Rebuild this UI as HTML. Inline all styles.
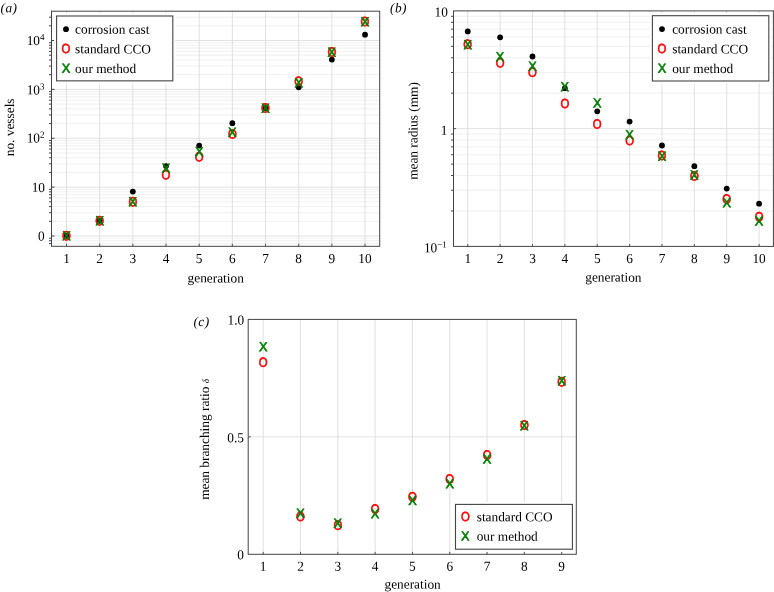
<!DOCTYPE html>
<html lang="en">
<head>
<meta charset="utf-8">
<title>Vessel statistics per generation</title>
<style>
  html, body { margin: 0; padding: 0; background: #ffffff; }
  body { width: 774px; height: 592px; overflow: hidden; }
  svg { display: block; will-change: transform; opacity: 0.9999; }
  text { text-rendering: geometricPrecision; }
  text.s { font-family: "Liberation Serif", "Times New Roman", Times, serif; font-size: 13.33px; fill: #000; }
  text.m { font-family: "Liberation Sans", Arial, Helvetica, sans-serif; text-anchor: middle; stroke-width: 0.6px; stroke-linejoin: round; }
  text.o { font-size: 13.15px; fill: #ff0000; stroke: #ff0000; }
  text.x { font-size: 13.2px; fill: #008000; stroke: #008000; }
</style>
</head>
<body>
<svg width="774" height="592" viewBox="0 0 774 592">
<rect width="774" height="592" fill="#ffffff"/>
<g id="panel-a">
<line x1="51.50" y1="243.57" x2="379.70" y2="243.57" stroke="#ececec" stroke-width="0.8"/>
<line x1="51.50" y1="240.74" x2="379.70" y2="240.74" stroke="#ececec" stroke-width="0.8"/>
<line x1="51.50" y1="238.24" x2="379.70" y2="238.24" stroke="#ececec" stroke-width="0.8"/>
<line x1="51.50" y1="221.29" x2="379.70" y2="221.29" stroke="#ececec" stroke-width="0.8"/>
<line x1="51.50" y1="212.68" x2="379.70" y2="212.68" stroke="#ececec" stroke-width="0.8"/>
<line x1="51.50" y1="206.58" x2="379.70" y2="206.58" stroke="#ececec" stroke-width="0.8"/>
<line x1="51.50" y1="201.84" x2="379.70" y2="201.84" stroke="#ececec" stroke-width="0.8"/>
<line x1="51.50" y1="197.97" x2="379.70" y2="197.97" stroke="#ececec" stroke-width="0.8"/>
<line x1="51.50" y1="194.70" x2="379.70" y2="194.70" stroke="#ececec" stroke-width="0.8"/>
<line x1="51.50" y1="191.87" x2="379.70" y2="191.87" stroke="#ececec" stroke-width="0.8"/>
<line x1="51.50" y1="189.37" x2="379.70" y2="189.37" stroke="#ececec" stroke-width="0.8"/>
<line x1="51.50" y1="172.42" x2="379.70" y2="172.42" stroke="#ececec" stroke-width="0.8"/>
<line x1="51.50" y1="163.81" x2="379.70" y2="163.81" stroke="#ececec" stroke-width="0.8"/>
<line x1="51.50" y1="157.71" x2="379.70" y2="157.71" stroke="#ececec" stroke-width="0.8"/>
<line x1="51.50" y1="152.97" x2="379.70" y2="152.97" stroke="#ececec" stroke-width="0.8"/>
<line x1="51.50" y1="149.10" x2="379.70" y2="149.10" stroke="#ececec" stroke-width="0.8"/>
<line x1="51.50" y1="145.83" x2="379.70" y2="145.83" stroke="#ececec" stroke-width="0.8"/>
<line x1="51.50" y1="143.00" x2="379.70" y2="143.00" stroke="#ececec" stroke-width="0.8"/>
<line x1="51.50" y1="140.50" x2="379.70" y2="140.50" stroke="#ececec" stroke-width="0.8"/>
<line x1="51.50" y1="123.55" x2="379.70" y2="123.55" stroke="#ececec" stroke-width="0.8"/>
<line x1="51.50" y1="114.94" x2="379.70" y2="114.94" stroke="#ececec" stroke-width="0.8"/>
<line x1="51.50" y1="108.84" x2="379.70" y2="108.84" stroke="#ececec" stroke-width="0.8"/>
<line x1="51.50" y1="104.10" x2="379.70" y2="104.10" stroke="#ececec" stroke-width="0.8"/>
<line x1="51.50" y1="100.23" x2="379.70" y2="100.23" stroke="#ececec" stroke-width="0.8"/>
<line x1="51.50" y1="96.96" x2="379.70" y2="96.96" stroke="#ececec" stroke-width="0.8"/>
<line x1="51.50" y1="94.13" x2="379.70" y2="94.13" stroke="#ececec" stroke-width="0.8"/>
<line x1="51.50" y1="91.63" x2="379.70" y2="91.63" stroke="#ececec" stroke-width="0.8"/>
<line x1="51.50" y1="74.68" x2="379.70" y2="74.68" stroke="#ececec" stroke-width="0.8"/>
<line x1="51.50" y1="66.07" x2="379.70" y2="66.07" stroke="#ececec" stroke-width="0.8"/>
<line x1="51.50" y1="59.97" x2="379.70" y2="59.97" stroke="#ececec" stroke-width="0.8"/>
<line x1="51.50" y1="55.23" x2="379.70" y2="55.23" stroke="#ececec" stroke-width="0.8"/>
<line x1="51.50" y1="51.36" x2="379.70" y2="51.36" stroke="#ececec" stroke-width="0.8"/>
<line x1="51.50" y1="48.09" x2="379.70" y2="48.09" stroke="#ececec" stroke-width="0.8"/>
<line x1="51.50" y1="45.26" x2="379.70" y2="45.26" stroke="#ececec" stroke-width="0.8"/>
<line x1="51.50" y1="42.76" x2="379.70" y2="42.76" stroke="#ececec" stroke-width="0.8"/>
<line x1="51.50" y1="25.81" x2="379.70" y2="25.81" stroke="#ececec" stroke-width="0.8"/>
<line x1="51.50" y1="17.20" x2="379.70" y2="17.20" stroke="#ececec" stroke-width="0.8"/>
<line x1="51.50" y1="236.00" x2="379.70" y2="236.00" stroke="#d9d9d9" stroke-width="0.8"/>
<line x1="51.50" y1="187.13" x2="379.70" y2="187.13" stroke="#d9d9d9" stroke-width="0.8"/>
<line x1="51.50" y1="138.26" x2="379.70" y2="138.26" stroke="#d9d9d9" stroke-width="0.8"/>
<line x1="51.50" y1="89.39" x2="379.70" y2="89.39" stroke="#d9d9d9" stroke-width="0.8"/>
<line x1="51.50" y1="40.52" x2="379.70" y2="40.52" stroke="#d9d9d9" stroke-width="0.8"/>
<line x1="66.50" y1="11.20" x2="66.50" y2="246.30" stroke="#d9d9d9" stroke-width="0.8"/>
<line x1="99.67" y1="11.20" x2="99.67" y2="246.30" stroke="#d9d9d9" stroke-width="0.8"/>
<line x1="132.84" y1="11.20" x2="132.84" y2="246.30" stroke="#d9d9d9" stroke-width="0.8"/>
<line x1="166.01" y1="11.20" x2="166.01" y2="246.30" stroke="#d9d9d9" stroke-width="0.8"/>
<line x1="199.18" y1="11.20" x2="199.18" y2="246.30" stroke="#d9d9d9" stroke-width="0.8"/>
<line x1="232.35" y1="11.20" x2="232.35" y2="246.30" stroke="#d9d9d9" stroke-width="0.8"/>
<line x1="265.52" y1="11.20" x2="265.52" y2="246.30" stroke="#d9d9d9" stroke-width="0.8"/>
<line x1="298.69" y1="11.20" x2="298.69" y2="246.30" stroke="#d9d9d9" stroke-width="0.8"/>
<line x1="331.86" y1="11.20" x2="331.86" y2="246.30" stroke="#d9d9d9" stroke-width="0.8"/>
<line x1="365.03" y1="11.20" x2="365.03" y2="246.30" stroke="#d9d9d9" stroke-width="0.8"/>
<line x1="49.00" y1="243.57" x2="51.50" y2="243.57" stroke="#444444" stroke-width="1"/>
<line x1="49.00" y1="240.74" x2="51.50" y2="240.74" stroke="#444444" stroke-width="1"/>
<line x1="49.00" y1="238.24" x2="51.50" y2="238.24" stroke="#444444" stroke-width="1"/>
<line x1="49.00" y1="221.29" x2="51.50" y2="221.29" stroke="#444444" stroke-width="1"/>
<line x1="49.00" y1="212.68" x2="51.50" y2="212.68" stroke="#444444" stroke-width="1"/>
<line x1="49.00" y1="206.58" x2="51.50" y2="206.58" stroke="#444444" stroke-width="1"/>
<line x1="49.00" y1="201.84" x2="51.50" y2="201.84" stroke="#444444" stroke-width="1"/>
<line x1="49.00" y1="197.97" x2="51.50" y2="197.97" stroke="#444444" stroke-width="1"/>
<line x1="49.00" y1="194.70" x2="51.50" y2="194.70" stroke="#444444" stroke-width="1"/>
<line x1="49.00" y1="191.87" x2="51.50" y2="191.87" stroke="#444444" stroke-width="1"/>
<line x1="49.00" y1="189.37" x2="51.50" y2="189.37" stroke="#444444" stroke-width="1"/>
<line x1="49.00" y1="172.42" x2="51.50" y2="172.42" stroke="#444444" stroke-width="1"/>
<line x1="49.00" y1="163.81" x2="51.50" y2="163.81" stroke="#444444" stroke-width="1"/>
<line x1="49.00" y1="157.71" x2="51.50" y2="157.71" stroke="#444444" stroke-width="1"/>
<line x1="49.00" y1="152.97" x2="51.50" y2="152.97" stroke="#444444" stroke-width="1"/>
<line x1="49.00" y1="149.10" x2="51.50" y2="149.10" stroke="#444444" stroke-width="1"/>
<line x1="49.00" y1="145.83" x2="51.50" y2="145.83" stroke="#444444" stroke-width="1"/>
<line x1="49.00" y1="143.00" x2="51.50" y2="143.00" stroke="#444444" stroke-width="1"/>
<line x1="49.00" y1="140.50" x2="51.50" y2="140.50" stroke="#444444" stroke-width="1"/>
<line x1="49.00" y1="123.55" x2="51.50" y2="123.55" stroke="#444444" stroke-width="1"/>
<line x1="49.00" y1="114.94" x2="51.50" y2="114.94" stroke="#444444" stroke-width="1"/>
<line x1="49.00" y1="108.84" x2="51.50" y2="108.84" stroke="#444444" stroke-width="1"/>
<line x1="49.00" y1="104.10" x2="51.50" y2="104.10" stroke="#444444" stroke-width="1"/>
<line x1="49.00" y1="100.23" x2="51.50" y2="100.23" stroke="#444444" stroke-width="1"/>
<line x1="49.00" y1="96.96" x2="51.50" y2="96.96" stroke="#444444" stroke-width="1"/>
<line x1="49.00" y1="94.13" x2="51.50" y2="94.13" stroke="#444444" stroke-width="1"/>
<line x1="49.00" y1="91.63" x2="51.50" y2="91.63" stroke="#444444" stroke-width="1"/>
<line x1="49.00" y1="74.68" x2="51.50" y2="74.68" stroke="#444444" stroke-width="1"/>
<line x1="49.00" y1="66.07" x2="51.50" y2="66.07" stroke="#444444" stroke-width="1"/>
<line x1="49.00" y1="59.97" x2="51.50" y2="59.97" stroke="#444444" stroke-width="1"/>
<line x1="49.00" y1="55.23" x2="51.50" y2="55.23" stroke="#444444" stroke-width="1"/>
<line x1="49.00" y1="51.36" x2="51.50" y2="51.36" stroke="#444444" stroke-width="1"/>
<line x1="49.00" y1="48.09" x2="51.50" y2="48.09" stroke="#444444" stroke-width="1"/>
<line x1="49.00" y1="45.26" x2="51.50" y2="45.26" stroke="#444444" stroke-width="1"/>
<line x1="49.00" y1="42.76" x2="51.50" y2="42.76" stroke="#444444" stroke-width="1"/>
<line x1="49.00" y1="25.81" x2="51.50" y2="25.81" stroke="#444444" stroke-width="1"/>
<line x1="49.00" y1="17.20" x2="51.50" y2="17.20" stroke="#444444" stroke-width="1"/>
<line x1="51.50" y1="236.00" x2="54.50" y2="236.00" stroke="#444444" stroke-width="1"/>
<line x1="51.50" y1="187.13" x2="54.50" y2="187.13" stroke="#444444" stroke-width="1"/>
<line x1="51.50" y1="138.26" x2="54.50" y2="138.26" stroke="#444444" stroke-width="1"/>
<line x1="51.50" y1="89.39" x2="54.50" y2="89.39" stroke="#444444" stroke-width="1"/>
<line x1="51.50" y1="40.52" x2="54.50" y2="40.52" stroke="#444444" stroke-width="1"/>
<line x1="66.50" y1="246.30" x2="66.50" y2="243.70" stroke="#444444" stroke-width="0.9"/>
<line x1="99.67" y1="246.30" x2="99.67" y2="243.70" stroke="#444444" stroke-width="0.9"/>
<line x1="132.84" y1="246.30" x2="132.84" y2="243.70" stroke="#444444" stroke-width="0.9"/>
<line x1="166.01" y1="246.30" x2="166.01" y2="243.70" stroke="#444444" stroke-width="0.9"/>
<line x1="199.18" y1="246.30" x2="199.18" y2="243.70" stroke="#444444" stroke-width="0.9"/>
<line x1="232.35" y1="246.30" x2="232.35" y2="243.70" stroke="#444444" stroke-width="0.9"/>
<line x1="265.52" y1="246.30" x2="265.52" y2="243.70" stroke="#444444" stroke-width="0.9"/>
<line x1="298.69" y1="246.30" x2="298.69" y2="243.70" stroke="#444444" stroke-width="0.9"/>
<line x1="331.86" y1="246.30" x2="331.86" y2="243.70" stroke="#444444" stroke-width="0.9"/>
<line x1="365.03" y1="246.30" x2="365.03" y2="243.70" stroke="#444444" stroke-width="0.9"/>
<rect x="51.50" y="11.20" width="328.20" height="235.10" fill="none" stroke="#444444" stroke-width="1"/>
</g>
<g id="labels-a">
<text class="s" transform="translate(0.60,12.30) matrix(1 0.002 0 1 0 0)" font-size="14" font-style="italic" letter-spacing="0.4">(a)</text>
<text class="s" transform="translate(44.50,45.00) matrix(1 0.002 0 1.03 0 0)" text-anchor="end">10<tspan font-size="9" dy="-4.75">4</tspan></text>
<text class="s" transform="translate(44.50,94.40) matrix(1 0.002 0 1.03 0 0)" text-anchor="end">10<tspan font-size="9" dy="-4.75">3</tspan></text>
<text class="s" transform="translate(44.50,142.55) matrix(1 0.002 0 1.03 0 0)" text-anchor="end">10<tspan font-size="9" dy="-4.75">2</tspan></text>
<text class="s" transform="translate(45.00,191.90) matrix(1 0.002 0 1.03 0 0)" text-anchor="end">10</text>
<text class="s" transform="translate(44.60,240.60) matrix(1 0.002 0 1.03 0 0)" text-anchor="end">0</text>
<text class="s" transform="translate(66.50,263.00) matrix(1 0.002 0 1.03 0 0)" text-anchor="middle">1</text>
<text class="s" transform="translate(99.67,263.00) matrix(1 0.002 0 1.03 0 0)" text-anchor="middle">2</text>
<text class="s" transform="translate(132.84,263.00) matrix(1 0.002 0 1.03 0 0)" text-anchor="middle">3</text>
<text class="s" transform="translate(166.01,263.00) matrix(1 0.002 0 1.03 0 0)" text-anchor="middle">4</text>
<text class="s" transform="translate(199.18,263.00) matrix(1 0.002 0 1.03 0 0)" text-anchor="middle">5</text>
<text class="s" transform="translate(232.35,263.00) matrix(1 0.002 0 1.03 0 0)" text-anchor="middle">6</text>
<text class="s" transform="translate(265.52,263.00) matrix(1 0.002 0 1.03 0 0)" text-anchor="middle">7</text>
<text class="s" transform="translate(298.69,263.00) matrix(1 0.002 0 1.03 0 0)" text-anchor="middle">8</text>
<text class="s" transform="translate(331.86,263.00) matrix(1 0.002 0 1.03 0 0)" text-anchor="middle">9</text>
<text class="s" transform="translate(365.03,263.00) matrix(1 0.002 0 1.03 0 0)" text-anchor="middle">10</text>
<text class="s" transform="translate(215.70,282.40) matrix(1 0.002 0 1 0 0)" text-anchor="middle">generation</text>
<text class="s" transform="translate(13.95,127.35) rotate(-90) matrix(1 0.002 0 1 0 0)" text-anchor="middle">no. vessels</text>
</g>
<g id="points-a">
<circle cx="66.50" cy="235.80" r="2.9" fill="#000"/>
<circle cx="99.67" cy="220.80" r="2.9" fill="#000"/>
<circle cx="132.84" cy="191.60" r="2.9" fill="#000"/>
<circle cx="166.01" cy="166.10" r="2.9" fill="#000"/>
<circle cx="199.18" cy="145.60" r="2.9" fill="#000"/>
<circle cx="232.35" cy="123.20" r="2.9" fill="#000"/>
<circle cx="265.52" cy="108.10" r="2.9" fill="#000"/>
<circle cx="298.69" cy="87.30" r="2.9" fill="#000"/>
<circle cx="331.86" cy="59.60" r="2.9" fill="#000"/>
<circle cx="365.03" cy="34.70" r="2.9" fill="#000"/>
<text class="m o" transform="translate(66.50,240.32) matrix(0.865 0.002 0 1 0 0)">O</text>
<text class="m o" transform="translate(99.67,225.32) matrix(0.865 0.002 0 1 0 0)">O</text>
<text class="m o" transform="translate(132.84,206.22) matrix(0.865 0.002 0 1 0 0)">O</text>
<text class="m o" transform="translate(166.01,179.32) matrix(0.865 0.002 0 1 0 0)">O</text>
<text class="m o" transform="translate(199.18,161.32) matrix(0.865 0.002 0 1 0 0)">O</text>
<text class="m o" transform="translate(232.35,138.42) matrix(0.865 0.002 0 1 0 0)">O</text>
<text class="m o" transform="translate(265.52,112.62) matrix(0.865 0.002 0 1 0 0)">O</text>
<text class="m o" transform="translate(298.69,85.72) matrix(0.865 0.002 0 1 0 0)">O</text>
<text class="m o" transform="translate(331.86,56.62) matrix(0.865 0.002 0 1 0 0)">O</text>
<text class="m o" transform="translate(365.03,26.12) matrix(0.865 0.002 0 1 0 0)">O</text>
<text class="m x" transform="translate(66.50,240.34) matrix(0.975 0.002 0 1 0 0)">X</text>
<text class="m x" transform="translate(99.67,225.34) matrix(0.975 0.002 0 1 0 0)">X</text>
<text class="m x" transform="translate(132.84,206.24) matrix(0.975 0.002 0 1 0 0)">X</text>
<text class="m x" transform="translate(166.01,172.64) matrix(0.975 0.002 0 1 0 0)">X</text>
<text class="m x" transform="translate(199.18,156.34) matrix(0.975 0.002 0 1 0 0)">X</text>
<text class="m x" transform="translate(232.35,136.74) matrix(0.975 0.002 0 1 0 0)">X</text>
<text class="m x" transform="translate(265.52,112.64) matrix(0.975 0.002 0 1 0 0)">X</text>
<text class="m x" transform="translate(298.69,87.14) matrix(0.975 0.002 0 1 0 0)">X</text>
<text class="m x" transform="translate(331.86,56.64) matrix(0.975 0.002 0 1 0 0)">X</text>
<text class="m x" transform="translate(365.03,26.14) matrix(0.975 0.002 0 1 0 0)">X</text>
</g>
<g id="legend-a">
<rect x="54.20" y="13.60" width="121.00" height="69.65" fill="#fff"/>
<rect x="56.60" y="16.00" width="116.20" height="64.85" fill="#fff" stroke="#444444" stroke-width="1.1"/>
<circle cx="66.00" cy="29.20" r="2.9" fill="#000"/>
<text class="s" transform="translate(75.10,33.60) matrix(1 0.002 0 1 0 0)">corrosion cast</text>
<text class="m o" transform="translate(66.00,53.07) matrix(0.865 0.002 0 1 0 0)">O</text>
<text class="s" transform="translate(75.10,53.30) matrix(1 0.002 0 1 0 0)">standard CCO</text>
<text class="m x" transform="translate(66.00,72.79) matrix(0.975 0.002 0 1 0 0)">X</text>
<text class="s" transform="translate(75.10,73.00) matrix(1 0.002 0 1 0 0)">our method</text>
</g>
<g id="panel-b">
<line x1="453.50" y1="210.95" x2="773.40" y2="210.95" stroke="#ececec" stroke-width="0.8"/>
<line x1="453.50" y1="190.22" x2="773.40" y2="190.22" stroke="#ececec" stroke-width="0.8"/>
<line x1="453.50" y1="175.51" x2="773.40" y2="175.51" stroke="#ececec" stroke-width="0.8"/>
<line x1="453.50" y1="164.10" x2="773.40" y2="164.10" stroke="#ececec" stroke-width="0.8"/>
<line x1="453.50" y1="154.77" x2="773.40" y2="154.77" stroke="#ececec" stroke-width="0.8"/>
<line x1="453.50" y1="146.89" x2="773.40" y2="146.89" stroke="#ececec" stroke-width="0.8"/>
<line x1="453.50" y1="140.06" x2="773.40" y2="140.06" stroke="#ececec" stroke-width="0.8"/>
<line x1="453.50" y1="134.04" x2="773.40" y2="134.04" stroke="#ececec" stroke-width="0.8"/>
<line x1="453.50" y1="93.20" x2="773.40" y2="93.20" stroke="#ececec" stroke-width="0.8"/>
<line x1="453.50" y1="72.47" x2="773.40" y2="72.47" stroke="#ececec" stroke-width="0.8"/>
<line x1="453.50" y1="57.76" x2="773.40" y2="57.76" stroke="#ececec" stroke-width="0.8"/>
<line x1="453.50" y1="46.35" x2="773.40" y2="46.35" stroke="#ececec" stroke-width="0.8"/>
<line x1="453.50" y1="37.02" x2="773.40" y2="37.02" stroke="#ececec" stroke-width="0.8"/>
<line x1="453.50" y1="29.14" x2="773.40" y2="29.14" stroke="#ececec" stroke-width="0.8"/>
<line x1="453.50" y1="22.31" x2="773.40" y2="22.31" stroke="#ececec" stroke-width="0.8"/>
<line x1="453.50" y1="16.29" x2="773.40" y2="16.29" stroke="#ececec" stroke-width="0.8"/>
<line x1="453.50" y1="128.65" x2="773.40" y2="128.65" stroke="#d9d9d9" stroke-width="0.8"/>
<line x1="467.75" y1="10.90" x2="467.75" y2="246.40" stroke="#d9d9d9" stroke-width="0.8"/>
<line x1="500.12" y1="10.90" x2="500.12" y2="246.40" stroke="#d9d9d9" stroke-width="0.8"/>
<line x1="532.49" y1="10.90" x2="532.49" y2="246.40" stroke="#d9d9d9" stroke-width="0.8"/>
<line x1="564.86" y1="10.90" x2="564.86" y2="246.40" stroke="#d9d9d9" stroke-width="0.8"/>
<line x1="597.23" y1="10.90" x2="597.23" y2="246.40" stroke="#d9d9d9" stroke-width="0.8"/>
<line x1="629.60" y1="10.90" x2="629.60" y2="246.40" stroke="#d9d9d9" stroke-width="0.8"/>
<line x1="661.97" y1="10.90" x2="661.97" y2="246.40" stroke="#d9d9d9" stroke-width="0.8"/>
<line x1="694.34" y1="10.90" x2="694.34" y2="246.40" stroke="#d9d9d9" stroke-width="0.8"/>
<line x1="726.71" y1="10.90" x2="726.71" y2="246.40" stroke="#d9d9d9" stroke-width="0.8"/>
<line x1="759.08" y1="10.90" x2="759.08" y2="246.40" stroke="#d9d9d9" stroke-width="0.8"/>
<line x1="451.00" y1="210.95" x2="453.50" y2="210.95" stroke="#444444" stroke-width="1"/>
<line x1="451.00" y1="190.22" x2="453.50" y2="190.22" stroke="#444444" stroke-width="1"/>
<line x1="451.00" y1="175.51" x2="453.50" y2="175.51" stroke="#444444" stroke-width="1"/>
<line x1="451.00" y1="164.10" x2="453.50" y2="164.10" stroke="#444444" stroke-width="1"/>
<line x1="451.00" y1="154.77" x2="453.50" y2="154.77" stroke="#444444" stroke-width="1"/>
<line x1="451.00" y1="146.89" x2="453.50" y2="146.89" stroke="#444444" stroke-width="1"/>
<line x1="451.00" y1="140.06" x2="453.50" y2="140.06" stroke="#444444" stroke-width="1"/>
<line x1="451.00" y1="134.04" x2="453.50" y2="134.04" stroke="#444444" stroke-width="1"/>
<line x1="451.00" y1="93.20" x2="453.50" y2="93.20" stroke="#444444" stroke-width="1"/>
<line x1="451.00" y1="72.47" x2="453.50" y2="72.47" stroke="#444444" stroke-width="1"/>
<line x1="451.00" y1="57.76" x2="453.50" y2="57.76" stroke="#444444" stroke-width="1"/>
<line x1="451.00" y1="46.35" x2="453.50" y2="46.35" stroke="#444444" stroke-width="1"/>
<line x1="451.00" y1="37.02" x2="453.50" y2="37.02" stroke="#444444" stroke-width="1"/>
<line x1="451.00" y1="29.14" x2="453.50" y2="29.14" stroke="#444444" stroke-width="1"/>
<line x1="451.00" y1="22.31" x2="453.50" y2="22.31" stroke="#444444" stroke-width="1"/>
<line x1="451.00" y1="16.29" x2="453.50" y2="16.29" stroke="#444444" stroke-width="1"/>
<line x1="453.50" y1="128.65" x2="456.10" y2="128.65" stroke="#444444" stroke-width="0.9"/>
<line x1="467.75" y1="246.40" x2="467.75" y2="244.00" stroke="#444444" stroke-width="0.9"/>
<line x1="500.12" y1="246.40" x2="500.12" y2="244.00" stroke="#444444" stroke-width="0.9"/>
<line x1="532.49" y1="246.40" x2="532.49" y2="244.00" stroke="#444444" stroke-width="0.9"/>
<line x1="564.86" y1="246.40" x2="564.86" y2="244.00" stroke="#444444" stroke-width="0.9"/>
<line x1="597.23" y1="246.40" x2="597.23" y2="244.00" stroke="#444444" stroke-width="0.9"/>
<line x1="629.60" y1="246.40" x2="629.60" y2="244.00" stroke="#444444" stroke-width="0.9"/>
<line x1="661.97" y1="246.40" x2="661.97" y2="244.00" stroke="#444444" stroke-width="0.9"/>
<line x1="694.34" y1="246.40" x2="694.34" y2="244.00" stroke="#444444" stroke-width="0.9"/>
<line x1="726.71" y1="246.40" x2="726.71" y2="244.00" stroke="#444444" stroke-width="0.9"/>
<line x1="759.08" y1="246.40" x2="759.08" y2="244.00" stroke="#444444" stroke-width="0.9"/>
<rect x="453.50" y="10.90" width="319.90" height="235.50" fill="none" stroke="#444444" stroke-width="1"/>
</g>
<g id="labels-b">
<text class="s" transform="translate(390.10,12.30) matrix(1 0.002 0 1 0 0)" font-size="14" font-style="italic" letter-spacing="0.4">(b)</text>
<text class="s" transform="translate(447.80,16.50) matrix(1 0.002 0 1.03 0 0)" text-anchor="end">10</text>
<text class="s" transform="translate(447.40,134.70) matrix(1 0.002 0 1.03 0 0)" text-anchor="end">1</text>
<text class="s" transform="translate(446.80,252.40) matrix(1 0.002 0 1.03 0 0)" text-anchor="end">10<tspan font-size="9" dy="-4.75">−1</tspan></text>
<text class="s" transform="translate(467.75,262.90) matrix(1 0.002 0 1.03 0 0)" text-anchor="middle">1</text>
<text class="s" transform="translate(500.12,262.90) matrix(1 0.002 0 1.03 0 0)" text-anchor="middle">2</text>
<text class="s" transform="translate(532.49,262.90) matrix(1 0.002 0 1.03 0 0)" text-anchor="middle">3</text>
<text class="s" transform="translate(564.86,262.90) matrix(1 0.002 0 1.03 0 0)" text-anchor="middle">4</text>
<text class="s" transform="translate(597.23,262.90) matrix(1 0.002 0 1.03 0 0)" text-anchor="middle">5</text>
<text class="s" transform="translate(629.60,262.90) matrix(1 0.002 0 1.03 0 0)" text-anchor="middle">6</text>
<text class="s" transform="translate(661.97,262.90) matrix(1 0.002 0 1.03 0 0)" text-anchor="middle">7</text>
<text class="s" transform="translate(694.34,262.90) matrix(1 0.002 0 1.03 0 0)" text-anchor="middle">8</text>
<text class="s" transform="translate(726.71,262.90) matrix(1 0.002 0 1.03 0 0)" text-anchor="middle">9</text>
<text class="s" transform="translate(759.08,262.90) matrix(1 0.002 0 1.03 0 0)" text-anchor="middle">10</text>
<text class="s" transform="translate(613.40,281.60) matrix(1 0.002 0 1 0 0)" text-anchor="middle">generation</text>
<text class="s" transform="translate(417.60,131.00) rotate(-90) matrix(1 0.002 0 1 0 0)" text-anchor="middle">mean radius (mm)</text>
</g>
<g id="points-b">
<circle cx="467.75" cy="31.40" r="2.9" fill="#000"/>
<circle cx="500.12" cy="37.30" r="2.9" fill="#000"/>
<circle cx="532.49" cy="56.50" r="2.9" fill="#000"/>
<circle cx="564.86" cy="88.20" r="2.9" fill="#000"/>
<circle cx="597.23" cy="111.30" r="2.9" fill="#000"/>
<circle cx="629.60" cy="121.60" r="2.9" fill="#000"/>
<circle cx="661.97" cy="145.50" r="2.9" fill="#000"/>
<circle cx="694.34" cy="166.20" r="2.9" fill="#000"/>
<circle cx="726.71" cy="188.60" r="2.9" fill="#000"/>
<circle cx="759.08" cy="203.70" r="2.9" fill="#000"/>
<text class="m o" transform="translate(467.75,48.72) matrix(0.865 0.002 0 1 0 0)">O</text>
<text class="m o" transform="translate(500.12,67.32) matrix(0.865 0.002 0 1 0 0)">O</text>
<text class="m o" transform="translate(532.49,76.82) matrix(0.865 0.002 0 1 0 0)">O</text>
<text class="m o" transform="translate(564.86,107.92) matrix(0.865 0.002 0 1 0 0)">O</text>
<text class="m o" transform="translate(597.23,128.62) matrix(0.865 0.002 0 1 0 0)">O</text>
<text class="m o" transform="translate(629.60,144.92) matrix(0.865 0.002 0 1 0 0)">O</text>
<text class="m o" transform="translate(661.97,160.02) matrix(0.865 0.002 0 1 0 0)">O</text>
<text class="m o" transform="translate(694.34,180.62) matrix(0.865 0.002 0 1 0 0)">O</text>
<text class="m o" transform="translate(726.71,203.52) matrix(0.865 0.002 0 1 0 0)">O</text>
<text class="m o" transform="translate(759.08,221.32) matrix(0.865 0.002 0 1 0 0)">O</text>
<text class="m x" transform="translate(467.75,49.14) matrix(0.975 0.002 0 1 0 0)">X</text>
<text class="m x" transform="translate(500.12,61.24) matrix(0.975 0.002 0 1 0 0)">X</text>
<text class="m x" transform="translate(532.49,70.84) matrix(0.975 0.002 0 1 0 0)">X</text>
<text class="m x" transform="translate(564.86,91.24) matrix(0.975 0.002 0 1 0 0)">X</text>
<text class="m x" transform="translate(597.23,107.54) matrix(0.975 0.002 0 1 0 0)">X</text>
<text class="m x" transform="translate(629.60,139.14) matrix(0.975 0.002 0 1 0 0)">X</text>
<text class="m x" transform="translate(661.97,160.84) matrix(0.975 0.002 0 1 0 0)">X</text>
<text class="m x" transform="translate(694.34,179.54) matrix(0.975 0.002 0 1 0 0)">X</text>
<text class="m x" transform="translate(726.71,207.34) matrix(0.975 0.002 0 1 0 0)">X</text>
<text class="m x" transform="translate(759.08,225.44) matrix(0.975 0.002 0 1 0 0)">X</text>
</g>
<g id="legend-b">
<rect x="650.00" y="13.30" width="121.20" height="70.10" fill="#fff"/>
<rect x="652.40" y="15.70" width="116.40" height="65.30" fill="#fff" stroke="#444444" stroke-width="1.1"/>
<circle cx="662.00" cy="29.10" r="2.9" fill="#000"/>
<text class="s" transform="translate(672.20,33.50) matrix(1 0.002 0 1 0 0)">corrosion cast</text>
<text class="m o" transform="translate(662.00,53.07) matrix(0.865 0.002 0 1 0 0)">O</text>
<text class="s" transform="translate(672.20,53.30) matrix(1 0.002 0 1 0 0)">standard CCO</text>
<text class="m x" transform="translate(662.00,72.79) matrix(0.975 0.002 0 1 0 0)">X</text>
<text class="s" transform="translate(672.20,73.00) matrix(1 0.002 0 1 0 0)">our method</text>
</g>
<g id="panel-c">
<line x1="248.20" y1="436.85" x2="576.30" y2="436.85" stroke="#d9d9d9" stroke-width="0.8"/>
<line x1="263.20" y1="319.40" x2="263.20" y2="554.30" stroke="#d9d9d9" stroke-width="0.8"/>
<line x1="300.51" y1="319.40" x2="300.51" y2="554.30" stroke="#d9d9d9" stroke-width="0.8"/>
<line x1="337.82" y1="319.40" x2="337.82" y2="554.30" stroke="#d9d9d9" stroke-width="0.8"/>
<line x1="375.13" y1="319.40" x2="375.13" y2="554.30" stroke="#d9d9d9" stroke-width="0.8"/>
<line x1="412.44" y1="319.40" x2="412.44" y2="554.30" stroke="#d9d9d9" stroke-width="0.8"/>
<line x1="449.75" y1="319.40" x2="449.75" y2="554.30" stroke="#d9d9d9" stroke-width="0.8"/>
<line x1="487.06" y1="319.40" x2="487.06" y2="554.30" stroke="#d9d9d9" stroke-width="0.8"/>
<line x1="524.37" y1="319.40" x2="524.37" y2="554.30" stroke="#d9d9d9" stroke-width="0.8"/>
<line x1="561.68" y1="319.40" x2="561.68" y2="554.30" stroke="#d9d9d9" stroke-width="0.8"/>
<line x1="248.20" y1="436.85" x2="250.80" y2="436.85" stroke="#444444" stroke-width="0.9"/>
<line x1="263.20" y1="554.30" x2="263.20" y2="551.90" stroke="#444444" stroke-width="0.9"/>
<line x1="300.51" y1="554.30" x2="300.51" y2="551.90" stroke="#444444" stroke-width="0.9"/>
<line x1="337.82" y1="554.30" x2="337.82" y2="551.90" stroke="#444444" stroke-width="0.9"/>
<line x1="375.13" y1="554.30" x2="375.13" y2="551.90" stroke="#444444" stroke-width="0.9"/>
<line x1="412.44" y1="554.30" x2="412.44" y2="551.90" stroke="#444444" stroke-width="0.9"/>
<line x1="449.75" y1="554.30" x2="449.75" y2="551.90" stroke="#444444" stroke-width="0.9"/>
<line x1="487.06" y1="554.30" x2="487.06" y2="551.90" stroke="#444444" stroke-width="0.9"/>
<line x1="524.37" y1="554.30" x2="524.37" y2="551.90" stroke="#444444" stroke-width="0.9"/>
<line x1="561.68" y1="554.30" x2="561.68" y2="551.90" stroke="#444444" stroke-width="0.9"/>
<rect x="248.20" y="319.40" width="328.10" height="234.90" fill="none" stroke="#444444" stroke-width="1"/>
</g>
<g id="labels-c">
<text class="s" transform="translate(193.40,325.90) matrix(1 0.002 0 1 0 0)" font-size="14" font-style="italic" letter-spacing="0.5">(c)</text>
<text class="s" transform="translate(244.20,324.60) matrix(1 0.002 0 1.03 0 0)" text-anchor="end">1.0</text>
<text class="s" transform="translate(244.00,442.30) matrix(1 0.002 0 1.03 0 0)" text-anchor="end">0.5</text>
<text class="s" transform="translate(243.90,559.20) matrix(1 0.002 0 1.03 0 0)" text-anchor="end">0</text>
<text class="s" transform="translate(263.20,570.70) matrix(1 0.002 0 1.03 0 0)" text-anchor="middle">1</text>
<text class="s" transform="translate(300.51,570.70) matrix(1 0.002 0 1.03 0 0)" text-anchor="middle">2</text>
<text class="s" transform="translate(337.82,570.70) matrix(1 0.002 0 1.03 0 0)" text-anchor="middle">3</text>
<text class="s" transform="translate(375.13,570.70) matrix(1 0.002 0 1.03 0 0)" text-anchor="middle">4</text>
<text class="s" transform="translate(412.44,570.70) matrix(1 0.002 0 1.03 0 0)" text-anchor="middle">5</text>
<text class="s" transform="translate(449.75,570.70) matrix(1 0.002 0 1.03 0 0)" text-anchor="middle">6</text>
<text class="s" transform="translate(487.06,570.70) matrix(1 0.002 0 1.03 0 0)" text-anchor="middle">7</text>
<text class="s" transform="translate(524.37,570.70) matrix(1 0.002 0 1.03 0 0)" text-anchor="middle">8</text>
<text class="s" transform="translate(561.68,570.70) matrix(1 0.002 0 1.03 0 0)" text-anchor="middle">9</text>
<text class="s" transform="translate(412.60,588.60) matrix(1 0.002 0 1 0 0)" text-anchor="middle">generation</text>
<text class="s" transform="translate(209.0,439.4) rotate(-90) matrix(1 0.002 0 1 0 0)" text-anchor="middle">mean branching ratio <tspan font-style="italic" font-size="9.3">δ</tspan></text>
</g>
<g id="points-c">
<text class="m o" transform="translate(263.20,366.82) matrix(0.865 0.002 0 1 0 0)">O</text>
<text class="m o" transform="translate(300.51,520.92) matrix(0.865 0.002 0 1 0 0)">O</text>
<text class="m o" transform="translate(337.82,529.72) matrix(0.865 0.002 0 1 0 0)">O</text>
<text class="m o" transform="translate(375.13,513.42) matrix(0.865 0.002 0 1 0 0)">O</text>
<text class="m o" transform="translate(412.44,501.32) matrix(0.865 0.002 0 1 0 0)">O</text>
<text class="m o" transform="translate(449.75,483.52) matrix(0.865 0.002 0 1 0 0)">O</text>
<text class="m o" transform="translate(487.06,459.52) matrix(0.865 0.002 0 1 0 0)">O</text>
<text class="m o" transform="translate(524.37,429.52) matrix(0.865 0.002 0 1 0 0)">O</text>
<text class="m o" transform="translate(561.68,386.22) matrix(0.865 0.002 0 1 0 0)">O</text>
<text class="m x" transform="translate(263.20,351.24) matrix(0.975 0.002 0 1 0 0)">X</text>
<text class="m x" transform="translate(300.51,517.84) matrix(0.975 0.002 0 1 0 0)">X</text>
<text class="m x" transform="translate(337.82,527.84) matrix(0.975 0.002 0 1 0 0)">X</text>
<text class="m x" transform="translate(375.13,518.14) matrix(0.975 0.002 0 1 0 0)">X</text>
<text class="m x" transform="translate(412.44,504.94) matrix(0.975 0.002 0 1 0 0)">X</text>
<text class="m x" transform="translate(449.75,488.24) matrix(0.975 0.002 0 1 0 0)">X</text>
<text class="m x" transform="translate(487.06,463.44) matrix(0.975 0.002 0 1 0 0)">X</text>
<text class="m x" transform="translate(524.37,430.24) matrix(0.975 0.002 0 1 0 0)">X</text>
<text class="m x" transform="translate(561.68,385.34) matrix(0.975 0.002 0 1 0 0)">X</text>
</g>
<g id="legend-c">
<rect x="453.10" y="502.00" width="121.70" height="49.60" fill="#fff"/>
<rect x="455.50" y="504.40" width="116.90" height="44.80" fill="#fff" stroke="#444444" stroke-width="1.1"/>
<text class="m o" transform="translate(465.40,520.97) matrix(0.865 0.002 0 1 0 0)">O</text>
<text class="s" transform="translate(476.70,521.20) matrix(1 0.002 0 1 0 0)">standard CCO</text>
<text class="m x" transform="translate(465.40,540.39) matrix(0.975 0.002 0 1 0 0)">X</text>
<text class="s" transform="translate(476.70,540.60) matrix(1 0.002 0 1 0 0)">our method</text>
</g>
</svg>
</body>
</html>
